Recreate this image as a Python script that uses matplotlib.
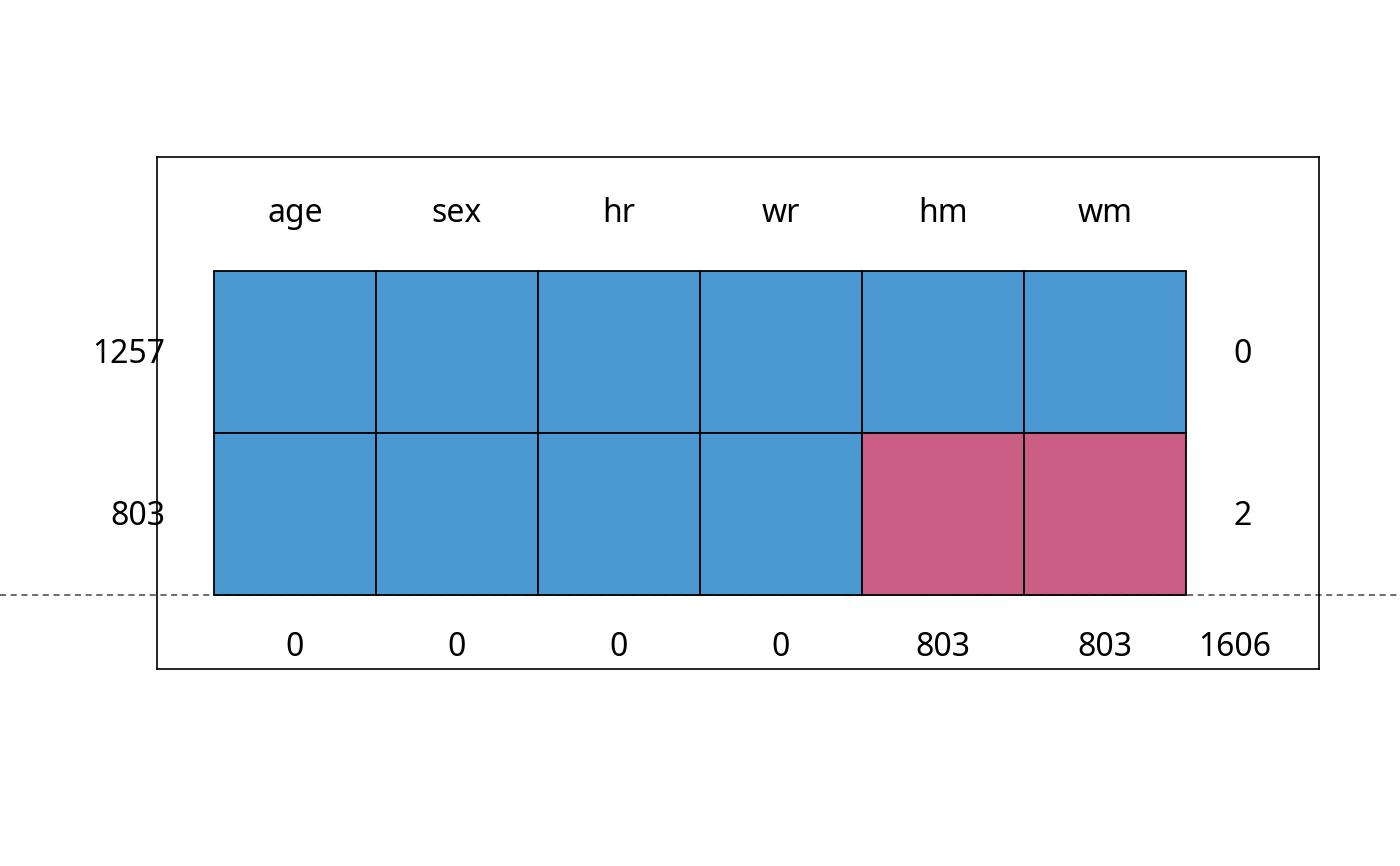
import numpy as np
import matplotlib.pyplot as plt
import matplotlib.transforms as mtransforms
from matplotlib.patches import Rectangle

plt.rcParams['font.family'] = ['Noto Sans', 'DejaVu Sans']

# missing data pattern (1 = observed, 0 = missing)
variables = ["age", "sex", "hr", "wr", "hm", "wm"]
pattern = np.array([[1, 1, 1, 1, 1, 1],
                    [1, 1, 1, 1, 0, 0]])
row_counts = [1257, 803]
row_missing = [0, 2]
col_missing = [0, 0, 0, 0, 803, 803]
total_missing = 1606

obs_color = "#4B98D3"
mis_color = "#CB5E84"

fig = plt.figure(figsize=(14, 8.66), dpi=100)
ax = fig.add_axes([0.1121, 0.2275, 0.83, 0.5912])
nrow, ncol = pattern.shape
ax.set_xlim(-0.352, ncol + 0.821)
ax.set_ylim(-0.457, nrow + 0.704)
ax.set_xticks([])
ax.set_yticks([])
for s in ax.spines.values():
    s.set_linewidth(1.2)

fs = 23
dy = 0.012  # small lift so glyphs sit where R puts them
for i in range(nrow):
    y = nrow - 1 - i
    for j in range(ncol):
        c = obs_color if pattern[i, j] == 1 else mis_color
        ax.add_patch(Rectangle((j, y), 1, 1, facecolor=c, edgecolor="black", linewidth=1.3))
    ax.text(-0.302, y + 0.5 + dy, str(row_counts[i]), ha="right", va="center_baseline",
            fontsize=fs, clip_on=False)
    ax.text(ncol + 0.352, y + 0.5 + dy, str(row_missing[i]), ha="center",
            va="center_baseline", fontsize=fs)

for j in range(ncol):
    ax.text(j + 0.5, nrow + 0.37 + dy, variables[j], ha="center", va="center_baseline",
            fontsize=fs)
    ax.text(j + 0.5, -0.309 + dy, str(col_missing[j]), ha="center", va="center_baseline",
            fontsize=fs)
ax.text(ncol + 0.302, -0.309 + dy, str(total_missing), ha="center", va="center_baseline",
        fontsize=fs)

# dashed separator across the whole figure
tr = mtransforms.blended_transform_factory(fig.transFigure, ax.transData)
ax.plot([0, 1], [0, 0], transform=tr, color="#444444", linestyle=(0, (4, 3)),
        linewidth=1.1, clip_on=False, zorder=0)

fig.savefig("out.png", dpi=100)
